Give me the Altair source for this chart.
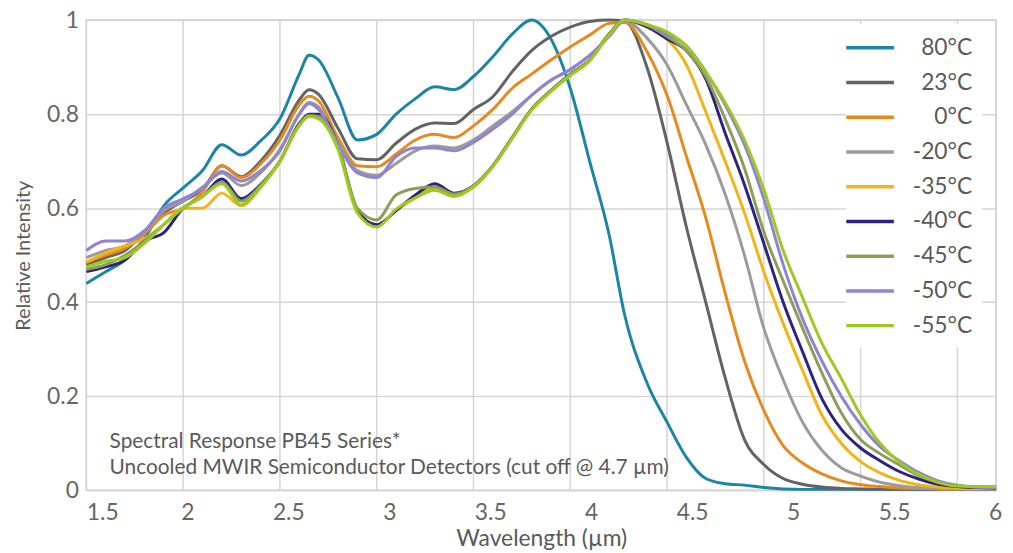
import altair as alt
import pandas as pd

# wavelength grid (µm)
wavelength = [1.5, 1.6, 1.7, 1.8, 1.9, 2.0, 2.1, 2.2, 2.3, 2.4, 2.5, 2.6, 2.65, 2.7, 2.8, 2.9,
              3.0, 3.1, 3.2, 3.3, 3.4, 3.5, 3.6, 3.7, 3.8, 3.9, 4.0, 4.1, 4.2,
              4.28, 4.4, 4.5, 4.6, 4.7, 4.8, 4.9, 5.0, 5.1, 5.2, 5.3, 5.4, 5.5, 5.6, 5.7, 5.8, 5.9, 6.0, 6.1, 6.2]

series_names = ["80°C", "23°C", "0°C", "-20°C", "-35°C", "-40°C", "-45°C", "-50°C", "-55°C"]
series_colors = ["#1b85a6", "#636363", "#e78a1e", "#9b9b9b", "#f2b41b", "#2e2380", "#8c9e58", "#9083d4", "#9acb1e"]

t80 = [0.44, 0.465, 0.49, 0.535, 0.605, 0.643, 0.68, 0.735, 0.713, 0.743, 0.79, 0.885, 0.925, 0.915, 0.835, 0.745,
       0.757, 0.80, 0.833, 0.858, 0.852, 0.88, 0.922, 0.97, 1.0, 0.96, 0.855, 0.70, 0.545,
       0.375, 0.225, 0.145, 0.07, 0.025, 0.014, 0.011, 0.006, 0.003, 0.002, 0.002, 0.002, 0.002, 0.002, 0.002, 0.002, 0.002, 0.002, 0.002, 0.002]
t23 = [0.48, 0.495, 0.51, 0.55, 0.59, 0.615, 0.64, 0.69, 0.667, 0.70, 0.755, 0.83, 0.852, 0.842, 0.77, 0.705,
       0.703, 0.738, 0.768, 0.781, 0.78, 0.81, 0.837, 0.89, 0.935, 0.965, 0.985, 0.997, 1.0,
       0.998, 0.895, 0.74, 0.56, 0.40, 0.24, 0.108, 0.055, 0.025, 0.013, 0.007, 0.004, 0.003, 0.002, 0.002, 0.002, 0.002, 0.002, 0.002, 0.002]
t0 = [0.485, 0.50, 0.515, 0.545, 0.585, 0.60, 0.635, 0.69, 0.665, 0.694, 0.745, 0.82, 0.838, 0.828, 0.75, 0.69,
      0.688, 0.715, 0.745, 0.757, 0.75, 0.775, 0.81, 0.855, 0.885, 0.915, 0.943, 0.968, 0.993,
      0.995, 0.93, 0.84, 0.71, 0.58, 0.42, 0.275, 0.17, 0.095, 0.058, 0.035, 0.02, 0.012, 0.008, 0.005, 0.004, 0.003, 0.003, 0.003, 0.003]
tm20 = [0.495, 0.51, 0.52, 0.55, 0.595, 0.615, 0.645, 0.675, 0.648, 0.675, 0.725, 0.80, 0.825, 0.815, 0.74, 0.68,
        0.67, 0.695, 0.722, 0.732, 0.728, 0.745, 0.775, 0.805, 0.84, 0.872, 0.895, 0.925, 0.965,
        0.998, 0.96, 0.905, 0.82, 0.735, 0.63, 0.50, 0.345, 0.235, 0.145, 0.085, 0.048, 0.03, 0.017, 0.01, 0.006, 0.004, 0.003, 0.003, 0.003]
tm35 = [0.485, 0.505, 0.52, 0.535, 0.565, 0.60, 0.60, 0.632, 0.605, 0.645, 0.70, 0.78, 0.795, 0.795, 0.73, 0.595,
        0.563, 0.595, 0.622, 0.645, 0.628, 0.645, 0.69, 0.75, 0.81, 0.85, 0.885, 0.915, 0.97,
        1.0, 0.985, 0.96, 0.905, 0.805, 0.70, 0.59, 0.465, 0.355, 0.255, 0.16, 0.10, 0.061, 0.037, 0.021, 0.012, 0.007, 0.005, 0.004, 0.004]
tm40 = [0.465, 0.475, 0.49, 0.53, 0.548, 0.60, 0.625, 0.662, 0.62, 0.65, 0.70, 0.78, 0.80, 0.80, 0.735, 0.595,
        0.565, 0.595, 0.628, 0.652, 0.632, 0.648, 0.69, 0.75, 0.81, 0.85, 0.885, 0.915, 0.97,
        1.0, 0.985, 0.96, 0.935, 0.875, 0.76, 0.65, 0.525, 0.40, 0.295, 0.195, 0.13, 0.09, 0.063, 0.04, 0.024, 0.013, 0.008, 0.006, 0.005]
tm45 = [0.47, 0.48, 0.50, 0.53, 0.565, 0.60, 0.625, 0.655, 0.615, 0.648, 0.70, 0.778, 0.797, 0.795, 0.735, 0.60,
        0.575, 0.628, 0.642, 0.645, 0.63, 0.648, 0.69, 0.75, 0.81, 0.85, 0.885, 0.915, 0.97,
        1.0, 0.988, 0.965, 0.935, 0.88, 0.79, 0.685, 0.55, 0.445, 0.345, 0.25, 0.165, 0.108, 0.078, 0.054, 0.031, 0.017, 0.01, 0.007, 0.006]
tm50 = [0.51, 0.53, 0.53, 0.552, 0.60, 0.62, 0.642, 0.678, 0.658, 0.68, 0.722, 0.80, 0.822, 0.81, 0.735, 0.675,
        0.665, 0.71, 0.728, 0.728, 0.722, 0.74, 0.768, 0.80, 0.84, 0.872, 0.895, 0.925, 0.965,
        1.0, 0.99, 0.97, 0.945, 0.89, 0.82, 0.735, 0.62, 0.48, 0.365, 0.275, 0.2, 0.14, 0.093, 0.063, 0.038, 0.02, 0.011, 0.007, 0.006]
tm55 = [0.475, 0.487, 0.495, 0.525, 0.565, 0.60, 0.625, 0.652, 0.607, 0.644, 0.70, 0.775, 0.795, 0.79, 0.725, 0.59,
        0.56, 0.598, 0.622, 0.638, 0.625, 0.645, 0.688, 0.748, 0.808, 0.848, 0.882, 0.913, 0.968,
        1.0, 0.99, 0.975, 0.945, 0.89, 0.825, 0.745, 0.64, 0.51, 0.41, 0.313, 0.238, 0.16, 0.10, 0.06, 0.034, 0.017, 0.009, 0.008, 0.008]

series_values = [t80, t23, t0, tm20, tm35, tm40, tm45, tm50, tm55]

# axis annotations
x_grid = [1.5, 2.0, 2.5, 3.0, 3.5, 4.0, 4.5, 5.0, 5.5, 6.0]
x_labels = [1.5, 2.0, 2.5, 3.0, 3.5, 4.0, 4.5, 5.0, 5.5, 6.0]
y_ticks = [0, 0.2, 0.4, 0.6, 0.8, 1.0]
note_lines = ["Spectral Response PB45 Series*",
              "Uncooled MWIR Semiconductor Detectors (cut off @ 4.7 µm)"]
note_x = [1.62, 1.62]
note_y = [0.091, 0.034]

# the printed wavelength labels are spread slightly wider than the grid
label_stretch = 1.0433
label_pos = [1.5 + (v - 1.5) * label_stretch for v in x_labels]

rows = []
for name, vals in zip(series_names, series_values):
    for w, v in zip(wavelength, vals):
        rows.append({"wavelength": w, "intensity": v, "series": name})
df = pd.DataFrame(rows)

FONT = "Lato"
TXT = "#5a5a5a"

xscale = alt.Scale(domain=[1.5, 6.2], nice=False, zero=False)
yscale = alt.Scale(domain=[0, 1], nice=False)

x_axis = alt.Axis(values=label_pos, grid=False, ticks=False, domain=False,
                  labelExpr=f"format(round(((datum.value-1.5)/{label_stretch}+1.5)*2)/2, '~g')",
                  labelPadding=11, labelFontSize=23, labelColor="#666666",
                  title="Wavelength (µm)", titleFontSize=23, titleY=56,
                  titleBaseline="alphabetic")
y_axis = alt.Axis(values=y_ticks, format="~g", grid=True, gridColor="#d6d6d6", gridWidth=1.5,
                  ticks=False, domain=False, labelPadding=8, labelFontSize=23,
                  labelColor="#666666", title="Relative Intensity", titleFontSize=20,
                  titleX=-63, titleBaseline="middle")

grid = alt.Chart(pd.DataFrame({"g": x_grid})).mark_rule(color="#d6d6d6", strokeWidth=1.5).encode(
    x=alt.X("g:Q", scale=xscale, axis=x_axis)
)

lines = alt.Chart(df).mark_line(strokeWidth=3, interpolate="monotone").encode(
    x=alt.X("wavelength:Q", scale=xscale, axis=x_axis),
    y=alt.Y("intensity:Q", scale=yscale, axis=y_axis),
    color=alt.Color("series:N", sort=series_names,
                    scale=alt.Scale(domain=series_names, range=series_colors),
                    legend=alt.Legend(title=None, orient="none", legendX=766, legendY=4,
                                      symbolType="M-2,0H2", symbolSize=576, symbolStrokeWidth=3.5,
                                      labelFontSize=23, labelFont=FONT, labelColor=TXT,
                                      labelAlign="right", labelOffset=89, labelLimit=200,
                                      rowPadding=9, padding=10, fillColor="white")),
)

notes = alt.Chart(pd.DataFrame({"x": note_x, "y": note_y, "t": note_lines})).mark_text(
    align="left", baseline="alphabetic", fontSize=21, font=FONT, color=TXT
).encode(x=alt.X("x:Q", scale=xscale, axis=x_axis),
         y=alt.Y("y:Q", scale=yscale, axis=y_axis), text="t:N")

chart = alt.layer(grid, lines, notes).properties(
    width=917, height=474,
    autosize=alt.AutoSizeParams(type="none"),
    padding={"left": 79, "top": 10, "right": 9, "bottom": 58},
).configure_view(stroke="#c8c8c8", strokeWidth=1.5).configure_axis(
    labelFont=FONT, titleFont=FONT, titleColor=TXT, titleFontWeight="normal"
)

chart.save("out.html", embed_options={"renderer": "svg", "actions": False})
